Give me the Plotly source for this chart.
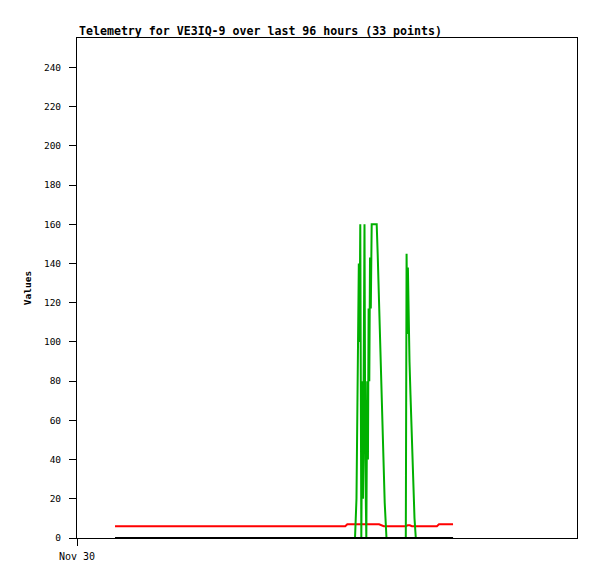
import plotly.graph_objects as go

# Time axis in hours since Nov 30 00:00 (axis spans 96 hours)
red_t = [7.3, 51.5, 51.9, 58.0, 58.9, 63.2, 63.5, 63.9, 64.3, 69.1, 69.5, 72.2]
red_v = [6, 6, 7, 7, 6, 6, 6.5, 6.5, 6, 6, 7, 7]

green_t = [7.3, 53.38, 53.66, 53.82, 53.95, 54.11, 54.24, 54.39, 54.59, 54.78, 54.91,
           55.05, 55.20, 55.35, 55.55, 55.72, 55.86, 55.99, 56.12, 56.26, 56.41,
           56.58, 57.54, 57.73, 57.93, 58.12, 58.31, 58.50, 58.69, 58.89, 59.08,
           59.42, 63.13, 63.28, 63.42, 63.53, 63.67, 63.84, 64.03, 64.22, 64.42,
           64.61, 64.80, 65.05, 72.2]
green_v = [0, 0, 20, 60, 100, 140, 100, 160, 0, 80, 20,
           140, 160, 40, 0, 80, 40, 117, 80, 143, 117,
           160, 160, 145, 125, 105, 88, 70, 52, 35, 18,
           0, 0, 145, 104, 138, 104, 90, 73, 57, 40,
           25, 10, 0, 0]

black_t = [7.3, 72.2]
black_v = [0, 0]

y_ticks = [0, 20, 40, 60, 80, 100, 120, 140, 160, 180, 200, 220, 240]
x_tick_vals = [0]
x_tick_text = ["Nov 30"]
title_text = "Telemetry for VE3IQ-9 over last 96 hours (33 points)"

fig = go.Figure()
fig.add_trace(go.Scatter(x=red_t, y=red_v, mode="lines",
                         line=dict(color="#ff0000", width=2), hoverinfo="skip"))
fig.add_trace(go.Scatter(x=green_t, y=green_v, mode="lines",
                         line=dict(color="#00b000", width=2), hoverinfo="skip"))
fig.add_trace(go.Scatter(x=black_t, y=black_v, mode="lines",
                         line=dict(color="#000000", width=2), hoverinfo="skip"))

mono = "DejaVu Sans Mono"
fig.update_layout(
    width=589, height=571,
    margin=dict(l=69, r=20, t=30, b=41, autoexpand=False),
    paper_bgcolor="white", plot_bgcolor="white",
    showlegend=False,
    font=dict(family=mono, size=9, color="black"),
    annotations=[dict(text="<b>" + title_text + "</b>", xref="paper", yref="paper",
                      x=0, y=1, xanchor="left", yanchor="bottom", yshift=-2,
                      showarrow=False, font=dict(family=mono, size=11.6, color="black"))],
)
fig.update_xaxes(range=[0, 96], tickmode="array", tickvals=x_tick_vals, ticktext=x_tick_text,
                 showgrid=False, zeroline=False, showline=True, linecolor="black", linewidth=1,
                 mirror=True, ticks="outside", ticklen=7, tickcolor="black",
                 tickfont=dict(family=mono, size=10), ticklabelstandoff=2, automargin=False)
fig.update_yaxes(range=[0, 255], tickmode="array", tickvals=y_ticks,
                 showgrid=False, zeroline=False, showline=True, linecolor="black", linewidth=1,
                 mirror=True, ticks="outside", ticklen=7, tickcolor="black",
                 tickfont=dict(family=mono, size=9.5), ticklabelstandoff=6, automargin=False,
                 title=dict(text="<b>Values</b>", font=dict(family=mono, size=9.5), standoff=10))

fig.write_html("out.html")
